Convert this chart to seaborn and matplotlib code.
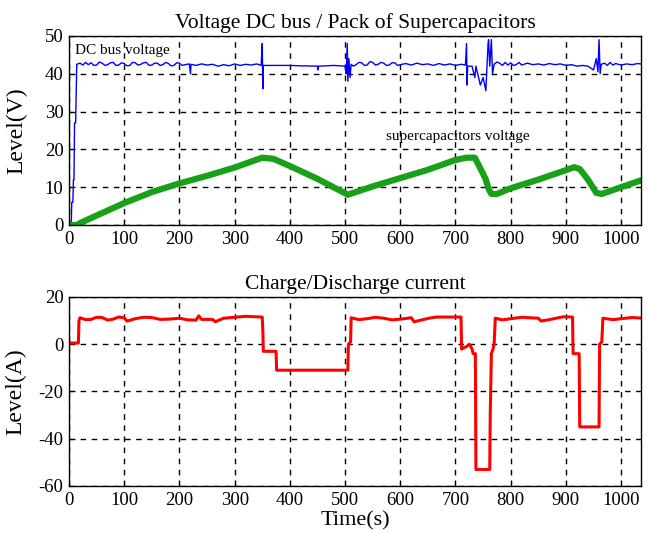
import matplotlib
matplotlib.use('Agg')
from matplotlib import pyplot as plt
import pandas as pd
import seaborn as sns

# values, as (time, level) pairs
# DC bus voltage (blue)
bus_pts = [(0, 0), (4, 0), (5, 6), (7, 6), (8, 12), (9, 12), (10, 27), (12, 27), (14, 42.5),
           (20, 42.8), (25, 42.3), (30, 43), (35, 42.4), (40, 42.9), (45, 42.2), (50, 42.3),
           (55, 43.1), (60, 42.8), (65, 42.2), (70, 42.4), (75, 42.9), (80, 43), (85, 42.2),
           (90, 42.3), (95, 42.9), (100, 42.7), (105, 42.1), (110, 42.2), (115, 43), (120, 42.9),
           (125, 42.3), (130, 42.5), (135, 42.9), (140, 43), (145, 42.2), (150, 42.3), (155, 42.8),
           (160, 42.8), (165, 42.2), (170, 42.4), (175, 43), (180, 42.7), (185, 42.1), (190, 42.2),
           (195, 42.9), (200, 42.8), (205, 42.2), (210, 42.4), (218, 42.6), (220, 40), (221, 42.5),
           (230, 42.2), (240, 42.6), (250, 42.3), (260, 42.5), (270, 42), (280, 42.4), (290, 42.1),
           (300, 42.6), (310, 42.2), (320, 42.5), (330, 42.3), (340, 42.6), (348, 42.2), (350, 48),
           (351, 36), (352, 42.2), (360, 42.2), (400, 42.2), (420, 42.1), (450, 42), (451, 41),
           (452, 42), (480, 42.2), (500, 42), (502, 40), (504, 48), (505, 38), (507, 44), (509, 39),
           (511, 42.5), (515, 42), (520, 42.4), (525, 43), (530, 42.9), (535, 42.2), (540, 42.3),
           (545, 43.2), (550, 43), (555, 42.3), (560, 42.5), (565, 43), (570, 42.8), (575, 42.2),
           (580, 42.3), (585, 42.9), (590, 42.9), (595, 42.2), (600, 42.4), (610, 42.7),
           (620, 42.3), (630, 42.8), (640, 42.4), (650, 42.6), (660, 42.2), (670, 42.7),
           (680, 42.3), (690, 42.6), (700, 42.2), (710, 42.5), (718, 42.3), (720, 48), (721, 37),
           (722, 42), (730, 42), (735, 39), (737, 42), (745, 37), (750, 39), (755, 35.5), (757, 42),
           (759, 48), (760, 49), (762, 42), (765, 49), (767, 40), (770, 42.5), (775, 43.1),
           (780, 42.8), (785, 42.2), (790, 43), (795, 42.3), (800, 42.9), (805, 42.2), (810, 42.4),
           (815, 43), (820, 42.3), (830, 42.8), (840, 42.4), (850, 42.6), (860, 42.3), (870, 42.7),
           (880, 42.4), (890, 42.6), (900, 42.2), (910, 42.4), (920, 42), (930, 42.2), (940, 42),
           (950, 41), (955, 44), (958, 40.5), (960, 49), (962, 40), (964, 42.5), (970, 42.8),
           (975, 42.2), (980, 43), (985, 42.3), (990, 42.7), (1000, 42.3), (1010, 42.6),
           (1020, 42.4), (1030, 42.7), (1040, 42.5)]

# supercapacitors voltage (green)
cap_pts = [(0, 0), (15, 0), (20, 0.5), (50, 2.5), (100, 5.8), (150, 8.7), (200, 11), (250, 13),
           (300, 15.2), (350, 17.8), (370, 17.5), (400, 15.6), (450, 12.2), (505, 8), (550, 10.2),
           (600, 12.4), (650, 14.6), (700, 17.2), (720, 17.8), (735, 17.8), (745, 15), (755, 12),
           (760, 9.5), (765, 8.2), (775, 8.2), (800, 9.7), (850, 12), (900, 14.5), (915, 15.3),
           (925, 14.8), (940, 12), (955, 8.5), (965, 8.2), (1000, 10), (1040, 12)]

# charge/discharge current (red)
cur_pts = [(0, 0.5), (17, 0.5), (18, 10), (20, 11.2), (30, 10.4), (40, 10.5), (50, 11.4),
           (60, 11.3), (70, 10.2), (80, 10.6), (90, 11.5), (100, 11.2), (105, 9.8), (110, 10.1),
           (120, 10.8), (135, 11.4), (150, 11.3), (165, 10.5), (180, 10.6), (200, 11), (215, 10.3),
           (230, 10.2), (235, 12), (240, 10.5), (260, 10.5), (265, 9.5), (280, 11), (300, 11.4),
           (320, 11.8), (350, 11.5), (351, 6), (352, -3), (375, -3), (376, -11), (505, -11),
           (506, 0), (510, 1), (511, 11.2), (525, 10.4), (540, 10.8), (555, 11.4), (570, 11),
           (585, 10.3), (600, 10.6), (620, 11.2), (625, 9.5), (650, 10.9), (665, 11.5),
           (680, 11.5), (710, 11.5), (711, -2), (720, -1), (725, 0), (730, -2), (732, -4),
           (736, -4), (737, -53), (762, -53), (763, -29), (765, -4), (768, -2), (770, 0),
           (772, 11), (785, 10.3), (800, 10.8), (820, 11.4), (850, 11), (855, 9.8), (870, 10.4),
           (880, 10.9), (895, 11.6), (912, 11.5), (913, -4), (924, -4), (925, -35), (960, -35),
           (961, 0), (965, 1), (967, 11), (985, 10.4), (1000, 10.8), (1020, 11.3), (1040, 11)]

x_ticks = [0, 100, 200, 300, 400, 500, 600, 700, 800, 900, 1000]

plt.rcParams['font.family'] = ['Liberation Serif', 'DejaVu Serif']
plt.rcParams['axes.unicode_minus'] = False

fig = plt.figure(figsize=(6.48, 5.34), dpi=100)
ax1 = fig.add_axes([0.1065, 0.5787, 0.8827, 0.354])
ax2 = fig.add_axes([0.1065, 0.0899, 0.8827, 0.354])

bus = pd.DataFrame(bus_pts, columns=['t', 'v'])
cap = pd.DataFrame(cap_pts, columns=['t', 'v'])
cur = pd.DataFrame(cur_pts, columns=['t', 'v'])

sns.lineplot(data=bus, x='t', y='v', ax=ax1, color='#0000ff', lw=1,
             sort=False, estimator=None)
sns.lineplot(data=cap, x='t', y='v', ax=ax1, color='#18a018', lw=4.5,
             sort=False, estimator=None)
sns.lineplot(data=cur, x='t', y='v', ax=ax2, color='#ff0000', lw=2.2,
             sort=False, estimator=None)

ax1.set_ylim(0, 50)
ax1.set_yticks([0, 10, 20, 30, 40, 50])
ax2.set_ylim(-60, 20)
ax2.set_yticks([-60, -40, -20, 0, 20])

for ax in (ax1, ax2):
    ax.set_xlim(0, 1036)
    ax.set_xticks(x_ticks)
    ax.grid(True, color='black', ls=(0, (4, 4)), lw=1)
    ax.tick_params(direction='in', length=4, labelsize=13.5, pad=4)
    for s in ax.spines.values():
        s.set_color('black')
        s.set_linewidth(1)

ax1.set_xlabel('')
ax1.set_ylabel('Level(V)', fontsize=17)
ax2.set_ylabel('Level(A)', fontsize=17)
ax1.yaxis.set_label_coords(-0.072, 0.5)
ax2.yaxis.set_label_coords(-0.075, 0.5)
ax2.set_xlabel('Time(s)', fontsize=16, labelpad=2)
ax1.set_title('Voltage DC bus / Pack of Supercapacitors', fontsize=15.5, pad=6)
ax2.set_title('Charge/Discharge current', fontsize=15.5, pad=6)

ax1.text(10, 45.3, 'DC bus voltage', fontsize=11)
ax1.text(575, 22.5, 'supercapacitors voltage', fontsize=11)

fig.savefig('out.png', dpi=100)
